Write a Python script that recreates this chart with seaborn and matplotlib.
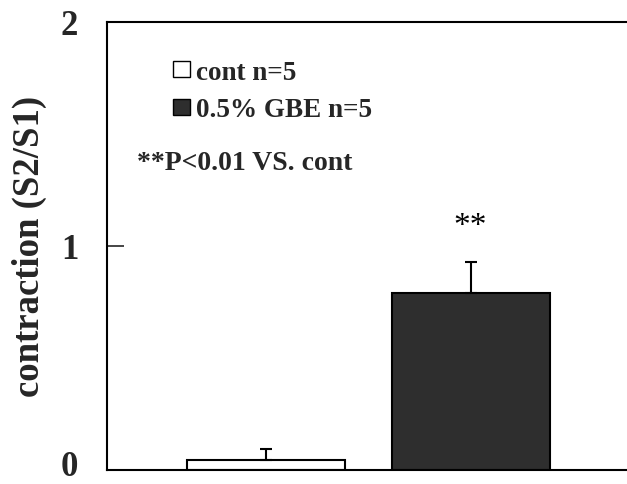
import matplotlib
matplotlib.use("Agg")
import matplotlib.pyplot as plt
import matplotlib.transforms as mtransforms
import seaborn as sns
import pandas as pd
from matplotlib.patches import Patch

groups = ["cont", "0.5% GBE"]
means = [0.046, 0.79]
errs = [0.048, 0.14]
legend_labels = ["cont n=5", "0.5% GBE n=5"]
colors = ["#ffffff", "#2e2e2e"]

sns.set_theme(style="white")
plt.rcParams["font.family"] = ["Liberation Serif", "DejaVu Serif"]
plt.rcParams["font.weight"] = "bold"

df = pd.DataFrame({"group": groups, "mean": means})

fig = plt.figure(figsize=(6.27, 4.85), dpi=100)
ax = fig.add_axes([0.171, 0.029, 0.829, 0.924])

sns.barplot(data=df, x="group", y="mean", hue="group", palette=colors,
            edgecolor="black", linewidth=1.5, width=0.77, legend=False, ax=ax)
ax.errorbar(x=[0, 1], y=means, yerr=[[0, 0], errs], fmt="none",
            ecolor="black", elinewidth=1.5, capsize=4, capthick=1.5)

for i, (m, e) in enumerate(zip(means, errs)):
    if i == 1:
        ax.text(i, m + e + 0.16, "**", ha="center", va="center",
                fontsize=24, fontweight="normal", color="black")

ax.set_ylim(0, 2)
ax.set_xlim(-0.773, 1.763)
ax.set_yticks([0, 1, 2])
ax.set_yticklabels(["0", "1", "2"], fontsize=25, fontweight="bold")
ax.set_xticks([])
ax.set_xlabel("")
ax.set_ylabel("contraction (S2/S1)", fontsize=26.5, fontweight="bold", labelpad=10)
ax.tick_params(axis="y", direction="in", length=12, width=1.2, pad=21, left=True)

# nudge the bottom "0" label up so it stays inside the canvas
lbl0 = ax.yaxis.get_major_ticks()[0].label1
lbl0.set_transform(lbl0.get_transform() +
                   mtransforms.ScaledTranslation(0, 5.5 / 72, fig.dpi_scale_trans))

for s in ["left", "top", "bottom"]:
    ax.spines[s].set_visible(True)
    ax.spines[s].set_color("black")
    ax.spines[s].set_linewidth(1.5)
ax.spines["right"].set_visible(False)

handles = [Patch(facecolor=c, edgecolor="black", linewidth=1.0) for c in colors]
leg = ax.legend(handles=handles, labels=legend_labels, loc="upper left",
                bbox_to_anchor=(0.096, 0.952), frameon=False,
                prop={"family": "Liberation Serif", "weight": "bold", "size": 19.5},
                handlelength=0.6, handleheight=0.55, handletextpad=0.25,
                labelspacing=0.47, borderaxespad=0.2)

ax.text(0.058, 0.687, "**P<0.01 VS. cont", transform=ax.transAxes,
        fontsize=20, fontweight="bold", ha="left", va="center")

fig.savefig("out.png", dpi=100)
